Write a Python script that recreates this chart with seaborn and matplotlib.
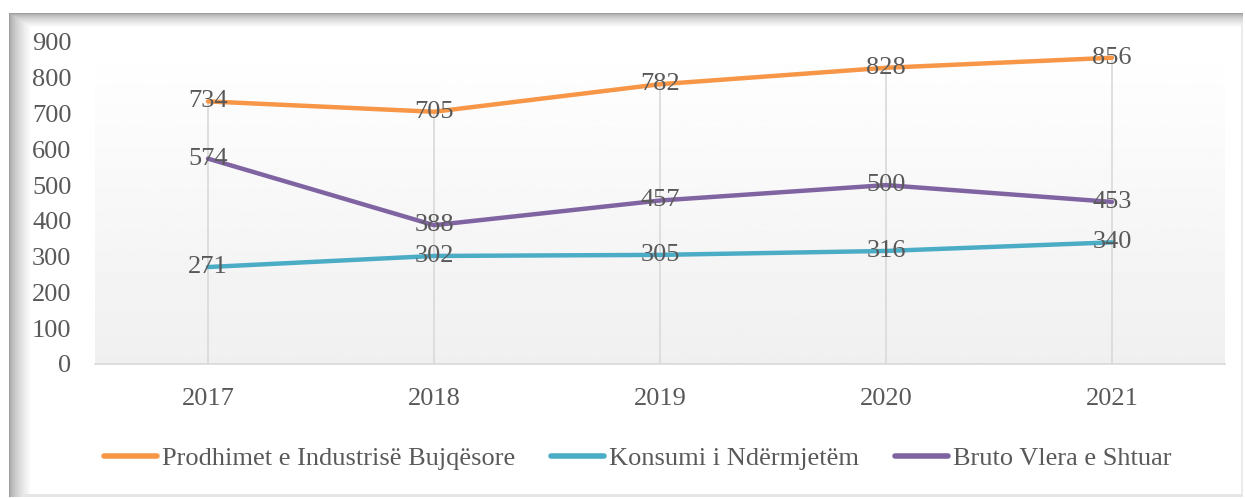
import numpy as np
import pandas as pd
import matplotlib
matplotlib.use("Agg")
import matplotlib.pyplot as plt
import seaborn as sns

years = ["2017", "2018", "2019", "2020", "2021"]
prodhimet = [734, 705, 782, 828, 856]
konsumi = [271, 302, 305, 316, 340]
bruto = [574, 388, 457, 500, 453]
series_names = ["Prodhimet e Industrisë Bujqësore", "Konsumi i Ndërmjetëm", "Bruto Vlera e Shtuar"]
colors = ["#F79646", "#4BACC6", "#8064A2"]
yticks = [0, 100, 200, 300, 400, 500, 600, 700, 800, 900]

sns.set_theme(style="white")
plt.rcParams['font.family'] = ['Liberation Serif', 'DejaVu Serif']
text_color = "#595959"
FS = 19

rows = []
for name, vals in zip(series_names, [prodhimet, konsumi, bruto]):
    for i, v in enumerate(vals):
        rows.append({"x": i, "value": v, "series": name})
df = pd.DataFrame(rows)

W, H = 1245, 499
fig = plt.figure(figsize=(W / 100, H / 100), dpi=100)
fig.patch.set_facecolor("white")

# decorative frame with inner shadow (top/left)
x0, y0, x1, y1 = 9, 13, 1243, 497
xs = np.arange(W)
ys = np.arange(H)
sx = np.clip((xs - x0) / 22.0, 0, 1)
sy = np.clip((ys - y0) / 14.0, 0, 1)
shade_x = 0.62 + 0.38 * sx ** 0.6
shade_y = 0.62 + 0.38 * sy ** 0.6
inner = np.minimum(shade_x[None, :], shade_y[:, None])
region = np.zeros((H, W), bool)
region[y0:y1, x0:x1] = True
bg = np.where(region, inner, 1.0)
bg[y1 - 3:y1, x0:x1] = np.minimum(bg[y1 - 3:y1, x0:x1], 0.90)
bg[y0:y1, x1 - 2:x1] = np.minimum(bg[y0:y1, x1 - 2:x1], 0.92)
bax = fig.add_axes([0, 0, 1, 1], zorder=-10)
bax.imshow(bg, cmap="gray", vmin=0, vmax=1, aspect="auto", interpolation="bilinear")
bax.axis("off")

ax = fig.add_axes([95 / W, 1 - 364 / H, (1225 - 95) / W, (364 - 42) / H])
ax.set_facecolor("none")

# gradient plot-area background
grad = np.linspace(0.94, 1.0, 256).reshape(-1, 1)
ax.imshow(grad, extent=[-0.5, 4.5, 0, 900], origin="lower", aspect="auto",
          cmap="gray", vmin=0, vmax=1, zorder=0)

# drop lines
tops = [max(a, b, c) for a, b, c in zip(prodhimet, konsumi, bruto)]
for i, t in enumerate(tops):
    ax.plot([i, i], [0, t], color="#d9d9d9", linewidth=1.2, zorder=1)

sns.lineplot(data=df, x="x", y="value", hue="series", palette=colors,
             hue_order=series_names, linewidth=3.2, ax=ax, zorder=3, legend=True)

for name, vals in zip(series_names, [prodhimet, konsumi, bruto]):
    for i, v in enumerate(vals):
        ax.text(i, v, str(v), ha="center", va="center", fontsize=FS,
                color=text_color, zorder=5)

ax.set_xlim(-0.5, 4.5)
ax.set_ylim(0, 900)
ax.set_xticks(range(len(years)))
ax.set_xticklabels(years)
ax.set_yticks(yticks)
ax.set_yticklabels([str(t) for t in yticks])
ax.tick_params(axis="both", length=0, labelsize=FS, labelcolor=text_color)
ax.tick_params(axis="x", pad=17)
ax.tick_params(axis="y", pad=17)
ax.set_xlabel("")
ax.set_ylabel("")
for s in ["top", "right", "left"]:
    ax.spines[s].set_visible(False)
ax.spines["bottom"].set_color("#d9d9d9")
ax.spines["bottom"].set_linewidth(1.2)
ax.grid(False)

handles, labels = ax.get_legend_handles_labels()
ax.legend_.remove()
leg = fig.legend(handles, labels, loc="center", bbox_to_anchor=(638 / W, 1 - 458 / H),
                 ncol=3, frameon=False, fontsize=FS, handlelength=2.0,
                 handletextpad=0.2, columnspacing=1.35)
for t in leg.get_texts():
    t.set_color(text_color)
for l in leg.get_lines():
    l.set_linewidth(4)
    l.set_solid_capstyle("round")

fig.savefig("out.png", dpi=100, facecolor="white")
